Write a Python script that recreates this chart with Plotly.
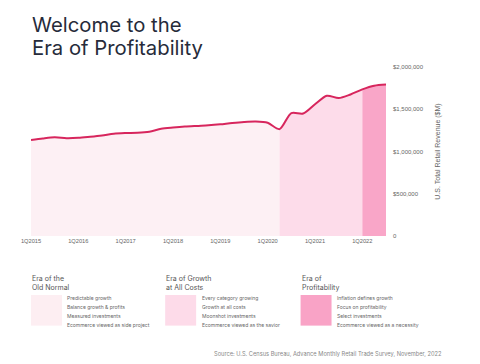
import plotly.graph_objects as go

# ---------------- data ----------------
quarters = [f"{q}Q{y}" for y in range(2015, 2023) for q in range(1, 5)][:31]
revenue = [1137000, 1155000, 1168000, 1158000, 1162000, 1175000, 1190000, 1210000,
           1218000, 1222000, 1235000, 1268000, 1283000, 1295000, 1303000, 1310000,
           1322000, 1338000, 1350000, 1355000, 1340000, 1265000, 1455000, 1450000,
           1560000, 1660000, 1632000, 1675000, 1735000, 1778000, 1792000]
era_names = [["Era of the", "Old Normal"], ["Era of Growth", "at All Costs"], ["Era of", "Profitability"]]
era_start = ["1Q2015", "2Q2020", "1Q2022"]
era_end = ["2Q2020", "1Q2022", "3Q2022"]
era_notes = [
    ["Predictable growth", "Balance growth & profits", "Measured investments", "Ecommerce viewed as side project"],
    ["Every category growing", "Growth at all costs", "Moonshot investments", "Ecommerce viewed as the savior"],
    ["Inflation defines growth", "Focus on profitability", "Select investments", "Ecommerce viewed as a necessity"],
]
title_lines = ["Welcome to the", "Era of Profitability"]
tick_labels = ["1Q2015", "1Q2016", "1Q2017", "1Q2018", "1Q2019", "1Q2020", "1Q2021", "1Q2022"]
y_ticks = [0, 500000, 1000000, 1500000, 2000000]
y_tick_text = ["0", "$500,000", "$1,000,000", "$1,500,000", "$2,000,000"]

# ---------------- style ----------------
W, H = 480, 364
ML, MR, MT, MB = 30.7, 94, 67.3, 128.3
PW, PH = W - ML - MR, H - MT - MB
era_colors = ["#fdf0f4", "#fddcea", "#f9a6c8"]
swatch_colors = ["#fdeef2", "#fddbe9", "#f9a3c6"]
line_color = "#d7265d"
TXT = "#666666"

def px(x):
    return (x - ML) / PW

def py(y):
    return (H - MB - y) / PH

idx = list(range(len(quarters)))
fig = go.Figure()

for k in range(3):
    a, b = quarters.index(era_start[k]), quarters.index(era_end[k])
    fig.add_trace(go.Scatter(
        x=idx[a:b + 1], y=revenue[a:b + 1], mode="lines",
        line=dict(width=0, shape="spline", smoothing=0.8),
        fill="tozeroy", fillcolor=era_colors[k], hoverinfo="skip", showlegend=False))

fig.add_trace(go.Scatter(x=idx, y=revenue, mode="lines",
                         line=dict(color=line_color, width=2, shape="spline", smoothing=0.8),
                         showlegend=False))

annotations = []
for j, t in enumerate(title_lines):
    annotations.append(dict(text=t, x=px(29.5), y=py(25 + 23.3 * j),
                            xref="paper", yref="paper", xanchor="left", yanchor="middle", align="left",
                            showarrow=False, font=dict(family="Inter", size=20.3, color="#262b3a")))

col_x = [30.7, 165, 300.5]
shapes = []
for k in range(3):
    for j, t in enumerate(era_names[k]):
        annotations.append(dict(text=t, x=px(col_x[k] - 1), y=py(278.5 + 8.5 * j), xref="paper", yref="paper",
                                xanchor="left", yanchor="middle", align="left", showarrow=False,
                                font=dict(family="Inter", size=7, color="#555555")))
    shapes.append(dict(type="rect", xref="paper", yref="paper", x0=px(col_x[k]), x1=px(col_x[k] + 31),
                       y0=py(294.5), y1=py(325), fillcolor=swatch_colors[k], line=dict(width=0),
                       layer="above"))
    for j, note in enumerate(era_notes[k]):
        annotations.append(dict(text=note, x=px(col_x[k] + 34.5), y=py(297.3 + 9 * j), xref="paper",
                                yref="paper", xanchor="left", yanchor="middle", showarrow=False,
                                font=dict(family="Inter", size=5, color=TXT)))

annotations.append(dict(text="Source: U.S. Census Bureau, Advance Monthly Retail Trade Survey, November, 2022",
                        x=px(444), y=py(352.3), xref="paper", yref="paper", xanchor="right", yanchor="middle",
                        showarrow=False, font=dict(family="Inter", size=5.7, color="#888888")))

fig.update_layout(
    width=W, height=H, margin=dict(l=ML, r=MR, t=MT, b=MB),
    paper_bgcolor="white", plot_bgcolor="white",
    annotations=annotations, shapes=shapes, showlegend=False,
    xaxis=dict(range=[0, len(quarters) - 1], tickvals=[quarters.index(t) for t in tick_labels],
               ticktext=tick_labels, showgrid=False, zeroline=False, showline=False, ticks="",
               tickfont=dict(family="Liberation Sans", size=5.7, color=TXT)),
    yaxis=dict(range=[0, 2000000], side="right", tickvals=y_ticks, ticktext=y_tick_text,
               showgrid=False, zeroline=False, showline=False, ticks="", ticklabelstandoff=6,
               tickfont=dict(family="Liberation Sans", size=6, color=TXT),
               title=dict(text="U.S. Total Retail Revenue ($M)", standoff=12,
                          font=dict(family="Liberation Sans", size=7, color=TXT))),
)

fig.write_html("out.html", config={"displayModeBar": False},
               post_script="document.body.style.margin='0';document.body.style.overflow='hidden';")
